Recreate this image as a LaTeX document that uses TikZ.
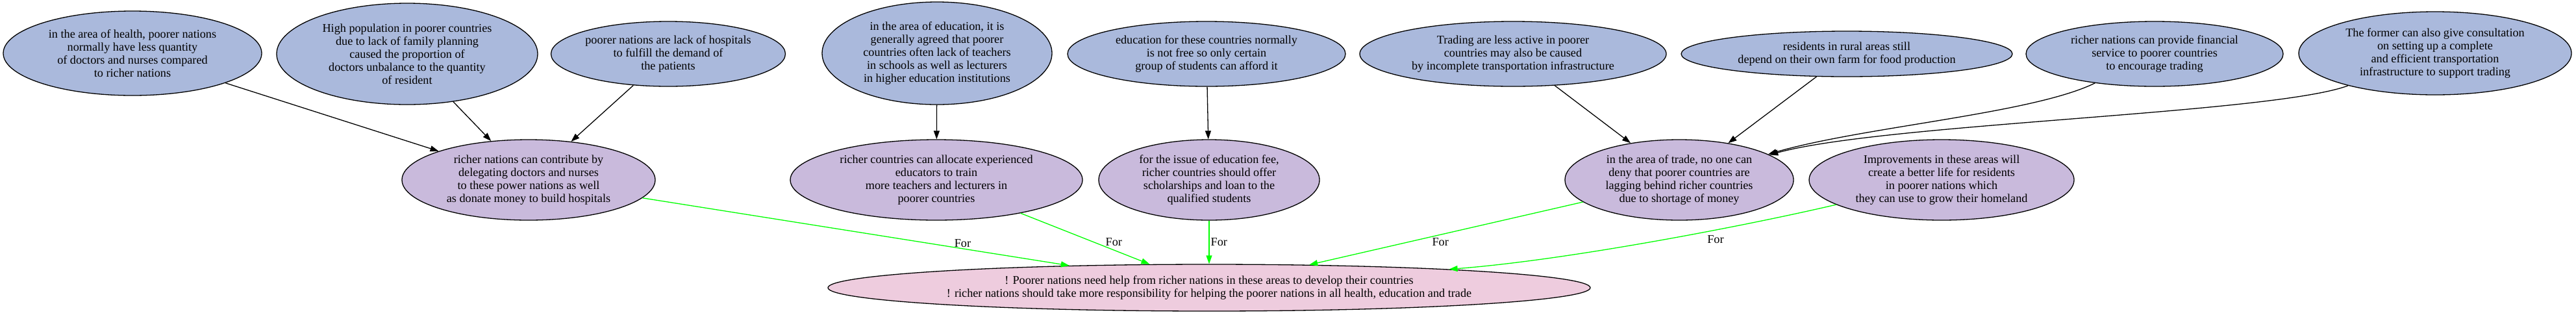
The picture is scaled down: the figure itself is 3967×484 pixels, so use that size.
\documentclass[tikz,border=0pt]{standalone}
\usepackage{fontspec}
\setmainfont{Liberation Serif}
\usepackage{tikz}
\usepackage{xcolor}
\usetikzlibrary{shapes.geometric, arrows.meta}
\definecolor{causeblue}{HTML}{AAB9DC}
\definecolor{helplilac}{HTML}{C9BADC}
\definecolor{claimpink}{HTML}{EECCDE}
\definecolor{forgreen}{HTML}{00FF00}

\begin{document}
\begin{tikzpicture}[
  x=0.5pt, y=0.5pt,
  every node/.style={font=\fontsize{9.1}{10}\selectfont},
  arr/.style={-{Triangle[length=6.5pt, width=4.5pt]}, line width=0.65pt},
  forarr/.style={-{Triangle[length=6.5pt, width=4.5pt]}, line width=0.65pt, draw=forgreen},
  forlbl/.style={inner sep=1pt, text=black},
  oval/.style={
    ellipse, draw, line width=0.65pt,
    align=center, inner sep=0pt
  },
  cause/.style={oval, fill=causeblue},
  help/.style={oval, fill=helplilac},
  claim/.style={oval, fill=claimpink}
]

%% picture is 3967 x 484 px, 1 px = 0.5pt, y grows downwards as negative
\useasboundingbox (0, 0) rectangle (3967, -484);

%% ─── TOP ROW: REASONS (y = -83) ─────────────────────────────────────────────
\node[cause, minimum width=199pt, minimum height=65pt] (health) at (204, -82)
  {in the area of health, poorer nations\\normally have less quantity\\of doctors and nurses compared\\to richer nations};

\node[cause, minimum width=201pt, minimum height=78pt] (population) at (627, -83)
  {High population in poorer countries\\due to lack of family planning\\caused the proportion of\\doctors unbalance to the quantity\\of resident};

\node[cause, minimum width=178pt, minimum height=50pt] (hospitals) at (1029, -83)
  {poorer nations are lack of hospitals\\to fulfill the demand of\\the patients};

\node[cause, minimum width=177pt, minimum height=79pt] (education) at (1443, -82)
  {in the area of education, it is\\generally agreed that poorer\\countries often lack of teachers\\in schools as well as lecturers\\in higher education institutions};

\node[cause, minimum width=214pt, minimum height=50pt] (notfree) at (1858, -83)
  {education for these countries normally\\is not free so only certain\\group of students can afford it};

\node[cause, minimum width=236pt, minimum height=50pt] (trading) at (2330, -83)
  {Trading are less active in poorer\\countries may also be caused\\by incomplete transportation infrastructure};

\node[cause, minimum width=255pt, minimum height=35pt] (rural) at (2844, -83)
  {residents in rural areas still\\depend on their own farm for food production};

\node[cause, minimum width=198pt, minimum height=50pt] (financial) at (3318, -83)
  {richer nations can provide financial\\service to poorer countries\\to encourage trading};

\node[cause, minimum width=210pt, minimum height=64pt] (consult) at (3750, -82)
  {The former can also give consultation\\on setting up a complete\\and efficient transportation\\infrastructure to support trading};

%% ─── MIDDLE ROW: WHAT RICHER NATIONS CAN DO (y = -277) ──────────────────────
\node[help, minimum width=195pt, minimum height=62pt] (contribute) at (814, -277)
  {richer nations can contribute by\\delegating doctors and nurses\\to these power nations as well\\as donate money to build hospitals};

\node[help, minimum width=225pt, minimum height=62pt] (allocate) at (1442, -277)
  {richer countries can allocate experienced\\educators to train\\more teachers and lecturers in\\poorer countries};

\node[help, minimum width=170pt, minimum height=62pt] (feeissue) at (1862, -277)
  {for the issue of education fee,\\richer countries should offer\\scholarships and loan to the\\qualified students};

\node[help, minimum width=176pt, minimum height=62pt] (trade) at (2586, -277)
  {in the area of trade, no one can\\deny that poorer countries are\\lagging behind richer countries\\due to shortage of money};

\node[help, minimum width=204pt, minimum height=62pt] (improve) at (2990, -277)
  {Improvements in these areas will\\create a better life for residents\\in poorer nations which\\they can use to grow their homeland};

%% ─── BOTTOM: CLAIM (y = -443) ───────────────────────────────────────────────
\node[claim, minimum width=587pt, minimum height=36pt] (claim) at (1862, -443)
  {! Poorer nations need help from richer nations in these areas to develop their countries\\! richer nations should take more responsibility for helping the poorer nations in all health, education and trade};

%% reasons -> help
\draw[arr] (health) -- (contribute);
\draw[arr] (population) -- (contribute);
\draw[arr] (hospitals) -- (contribute);
\draw[arr] (education) -- (allocate);
\draw[arr] (notfree) -- (feeissue);
\draw[arr] (trading) -- (trade);
\draw[arr] (rural) -- (trade);
%% the two far-right ones bend round to the trade node
\draw[arr] (financial) .. controls (3130, -175) and (2870, -195) .. (trade);
\draw[arr] (consult) .. controls (3500, -175) and (2900, -190) .. (trade);

%% help -> claim, all "For"
\draw[forarr] (contribute) -- node[forlbl, pos=0.75, above] {For} (claim);
\draw[forarr] (allocate) -- node[forlbl, pos=0.57, right=7.5pt] {For} (claim);
\draw[forarr] (feeissue) -- node[forlbl, pos=0.5, right] {For} (claim);
\draw[forarr] (trade) -- node[forlbl, pos=0.64, right=17.5pt] {For} (claim);
\draw[forarr] (improve) .. controls (2700, -345) and (2420, -400) ..
  node[forlbl, pos=0.36, below=3pt] {For} (claim);

\end{tikzpicture}
\end{document}
